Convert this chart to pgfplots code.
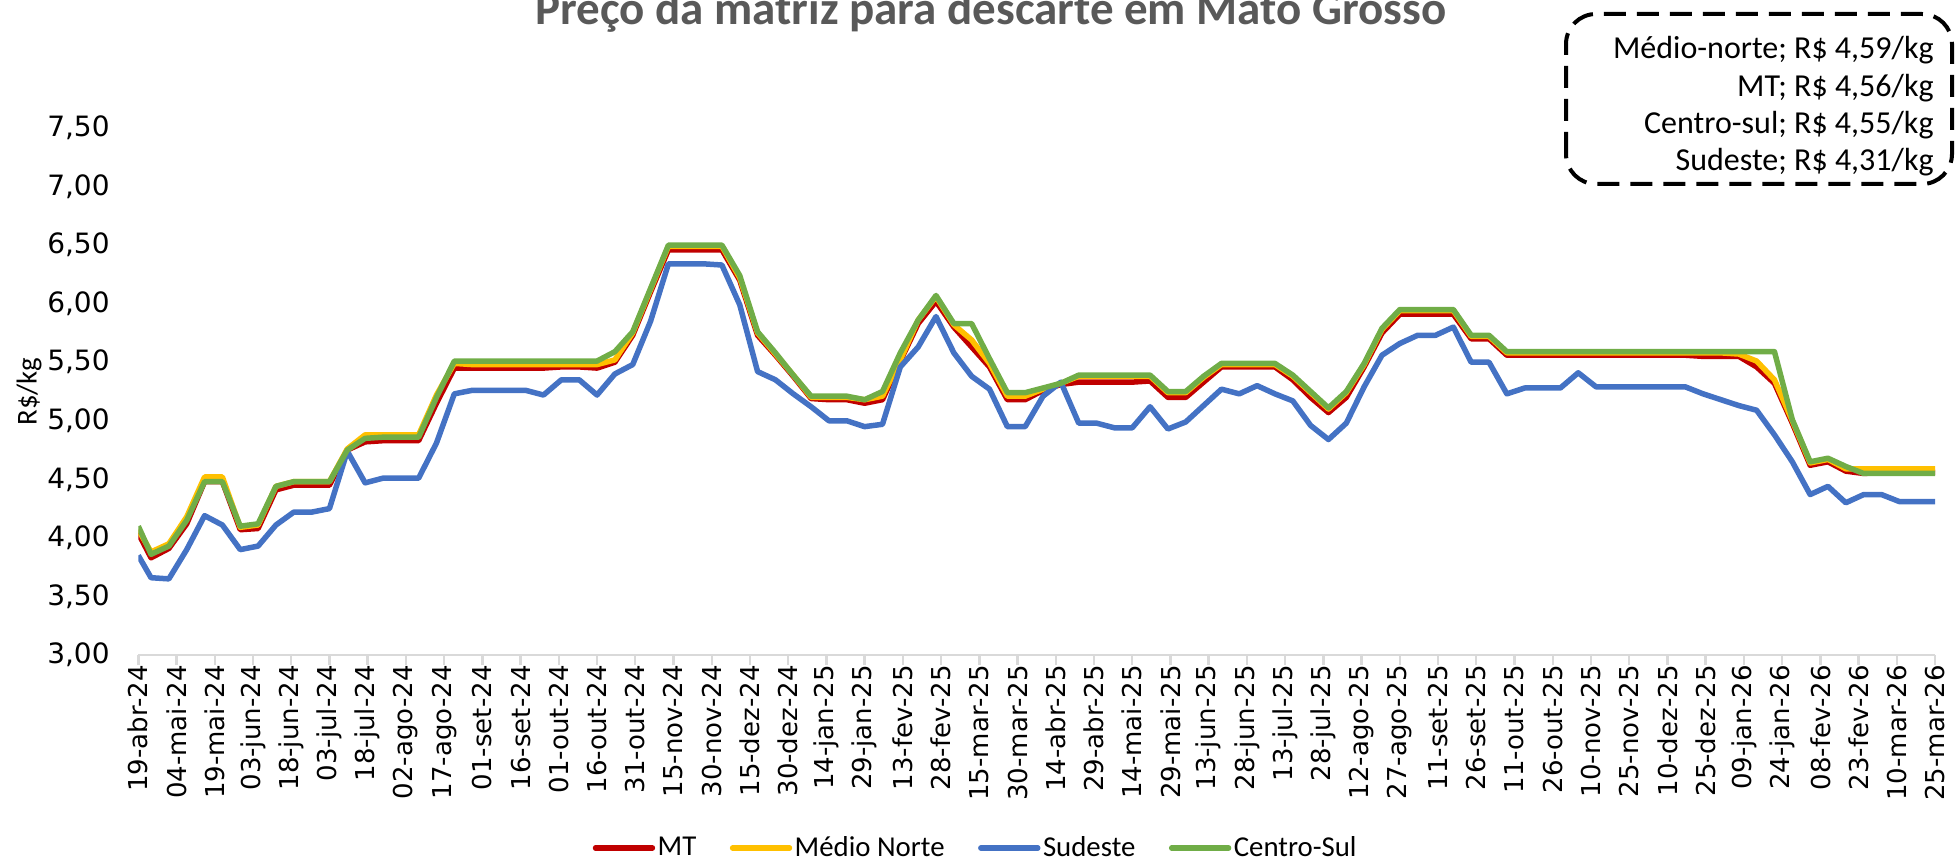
\documentclass[border=0pt]{standalone}
\usepackage{fontspec}
\setmainfont{Carlito}
\newfontfamily\dejavu{DejaVu Sans}
\usepackage{pgfplots}
\pgfplotsset{compat=1.18}
\usepackage{pgfplotstable}

\definecolor{cMT}{HTML}{C00000}
\definecolor{cMN}{HTML}{FFC000}
\definecolor{cSE}{HTML}{4472C4}
\definecolor{cCS}{HTML}{70AD47}
\definecolor{ctitle}{HTML}{595959}
\definecolor{caxis}{HTML}{D9D9D9}

\pgfplotstableread{
d MT MN SE CS
0 4.04 4.07 3.85 4.10
5 3.83 3.88 3.66 3.86
12 3.91 3.95 3.65 3.93
19 4.12 4.18 3.90 4.15
26 4.48 4.52 4.19 4.48
33 4.48 4.52 4.11 4.48
40 4.07 4.09 3.90 4.10
47 4.08 4.11 3.93 4.12
54 4.41 4.44 4.11 4.44
61 4.45 4.48 4.22 4.48
68 4.45 4.48 4.22 4.48
75 4.45 4.48 4.25 4.48
82 4.75 4.76 4.74 4.75
89 4.82 4.88 4.47 4.85
96 4.83 4.88 4.51 4.86
103 4.83 4.88 4.51 4.86
110 4.83 4.88 4.51 4.86
117 5.15 5.22 4.81 5.20
124 5.45 5.49 5.23 5.51
131 5.45 5.48 5.26 5.51
138 5.45 5.48 5.26 5.51
145 5.45 5.48 5.26 5.51
152 5.45 5.48 5.26 5.51
159 5.45 5.48 5.22 5.51
166 5.46 5.48 5.35 5.51
173 5.46 5.48 5.35 5.51
180 5.45 5.48 5.22 5.51
187 5.50 5.52 5.40 5.59
194 5.73 5.75 5.48 5.76
201 6.10 6.12 5.85 6.13
208 6.46 6.49 6.34 6.50
215 6.46 6.49 6.34 6.50
222 6.46 6.49 6.34 6.50
229 6.46 6.49 6.33 6.50
236 6.20 6.22 5.99 6.24
243 5.73 5.75 5.42 5.76
250 5.56 5.57 5.35 5.58
257 5.38 5.39 5.23 5.39
264 5.19 5.20 5.12 5.21
271 5.18 5.20 5.00 5.21
278 5.18 5.20 5.00 5.21
285 5.15 5.18 4.95 5.18
292 5.18 5.21 4.97 5.25
299 5.51 5.52 5.46 5.58
306 5.83 5.86 5.63 5.86
313 6.02 6.06 5.89 6.07
320 5.80 5.82 5.58 5.83
327 5.63 5.69 5.38 5.83
334 5.46 5.49 5.27 5.53
341 5.18 5.21 4.95 5.24
348 5.18 5.21 4.95 5.24
355 5.26 5.27 5.21 5.28
362 5.31 5.32 5.33 5.32
369 5.33 5.38 4.98 5.39
376 5.33 5.38 4.98 5.39
383 5.33 5.38 4.94 5.39
390 5.33 5.38 4.94 5.39
397 5.34 5.38 5.12 5.39
404 5.20 5.24 4.93 5.25
411 5.20 5.24 4.99 5.25
418 5.33 5.37 5.13 5.38
425 5.46 5.48 5.27 5.49
432 5.46 5.48 5.23 5.49
439 5.46 5.48 5.30 5.49
446 5.46 5.48 5.23 5.49
453 5.35 5.38 5.17 5.39
460 5.20 5.24 4.96 5.25
467 5.07 5.10 4.84 5.11
474 5.20 5.24 4.98 5.25
481 5.46 5.48 5.29 5.49
488 5.75 5.78 5.56 5.79
495 5.91 5.94 5.66 5.95
502 5.91 5.94 5.73 5.95
509 5.91 5.94 5.73 5.95
516 5.91 5.94 5.80 5.95
523 5.70 5.72 5.50 5.73
530 5.70 5.72 5.50 5.73
537 5.56 5.58 5.23 5.59
544 5.56 5.58 5.28 5.59
551 5.56 5.58 5.28 5.59
558 5.56 5.58 5.28 5.59
565 5.56 5.58 5.41 5.59
572 5.56 5.58 5.29 5.59
579 5.56 5.58 5.29 5.59
586 5.56 5.58 5.29 5.59
593 5.56 5.58 5.29 5.59
600 5.56 5.58 5.29 5.59
607 5.56 5.58 5.29 5.59
614 5.55 5.58 5.23 5.59
621 5.55 5.58 5.18 5.59
628 5.55 5.57 5.13 5.59
635 5.46 5.51 5.09 5.59
642 5.32 5.35 4.88 5.59
649 4.98 5.00 4.65 5.01
656 4.62 4.64 4.37 4.65
663 4.65 4.67 4.44 4.68
670 4.57 4.59 4.30 4.61
677 4.55 4.59 4.37 4.55
684 4.56 4.59 4.37 4.55
691 4.56 4.59 4.31 4.55
698 4.56 4.59 4.31 4.55
705 4.56 4.59 4.31 4.55
}\data

\begin{document}
\begin{tikzpicture}
\begin{axis}[
  scale only axis,
  width=898.35bp, height=263.5bp,
  xmin=0, xmax=705, ymin=3, ymax=7.5,
  axis x line*=bottom, axis y line*=left,
  x axis line style={draw=caxis, line width=1.4bp, -},
  y axis line style={draw=none},
  tick align=outside,
  major tick length=5bp,
  x tick style={draw=caxis, line width=1.2bp},
  y tick style={draw=none},
  xtick={0,15,...,705},
  xticklabels={19-abr-24,04-mai-24,19-mai-24,03-jun-24,18-jun-24,03-jul-24,18-jul-24,02-ago-24,17-ago-24,01-set-24,16-set-24,01-out-24,16-out-24,31-out-24,15-nov-24,30-nov-24,15-dez-24,30-dez-24,14-jan-25,29-jan-25,13-fev-25,28-fev-25,15-mar-25,30-mar-25,14-abr-25,29-abr-25,14-mai-25,29-mai-25,13-jun-25,28-jun-25,13-jul-25,28-jul-25,12-ago-25,27-ago-25,11-set-25,26-set-25,11-out-25,26-out-25,10-nov-25,25-nov-25,10-dez-25,25-dez-25,09-jan-26,24-jan-26,08-fev-26,23-fev-26,10-mar-26,25-mar-26},
  xticklabel style={rotate=90, anchor=east, inner sep=0pt, font=\dejavu\fontsize{13bp}{15bp}\selectfont},
  ytick={3,3.5,...,7.5},
  yticklabels={{3,00},{3,50},{4,00},{4,50},{5,00},{5,50},{6,00},{6,50},{7,00},{7,50}},
  yticklabel style={anchor=east, inner sep=0pt, xshift=-9.15bp, font=\dejavu\fontsize{14bp}{16bp}\selectfont},
  ylabel={R\$/kg},
  every axis y label/.style={at={(axis description cs:-0.0608,0.5)}, rotate=90, anchor=center, font=\fontsize{14.4bp}{17bp}\selectfont},
  legend columns=4,
  legend style={at={(axis description cs:0.4662,-0.3662)}, anchor=center, draw=none, fill=none,
    font=\fontsize{14.4bp}{17bp}\selectfont, nodes={inner sep=1.25bp},
    /tikz/every even column/.append style={column sep=15.5bp}},
  legend image code/.code={\draw[line width=2.7bp, line cap=round] (0bp,0bp) -- (28.5bp,0bp);},
  every axis plot/.append style={line width=2.75bp, line join=round, mark=none},
]
\addplot[cMT] table[x=d,y=MT]{\data};
\addlegendentry{MT}
\addplot[cMN] table[x=d,y=MN]{\data};
\addlegendentry{Médio Norte}
\addplot[cSE] table[x=d,y=SE]{\data};
\addlegendentry{Sudeste}
\addplot[cCS] table[x=d,y=CS]{\data};
\addlegendentry{Centro-Sul}
\coordinate (SW) at (rel axis cs:0,0);
\end{axis}
\node[anchor=base, text=ctitle, font=\bfseries\fontsize{23.5bp}{28bp}\selectfont] at ([shift={(426.35bp,315bp)}]SW) {Preço da matriz para descarte em Mato Grosso};
\draw[line width=2bp, dash pattern=on 11bp off 5.5bp, rounded corners=15bp] ([shift={(713.85bp,235.5bp)}]SW) rectangle ([shift={(906.85bp,320.5bp)}]SW);
\begin{scope}[every node/.style={anchor=east, inner sep=0pt, font=\fontsize{16bp}{19bp}\selectfont}]
\node at ([shift={(897.85bp,302.5bp)}]SW) {Médio-norte; R\$ 4,59/kg};
\node at ([shift={(897.85bp,283.5bp)}]SW) {MT; R\$ 4,56/kg};
\node at ([shift={(897.85bp,265bp)}]SW) {Centro-sul; R\$ 4,55/kg};
\node at ([shift={(897.85bp,246.5bp)}]SW) {Sudeste; R\$ 4,31/kg};
\end{scope}
\pgfresetboundingbox
\path[use as bounding box] ([shift={(-69.15bp,-103.5bp)}]SW) rectangle ([shift={(908.85bp,327.5bp)}]SW);
\end{tikzpicture}
\end{document}
